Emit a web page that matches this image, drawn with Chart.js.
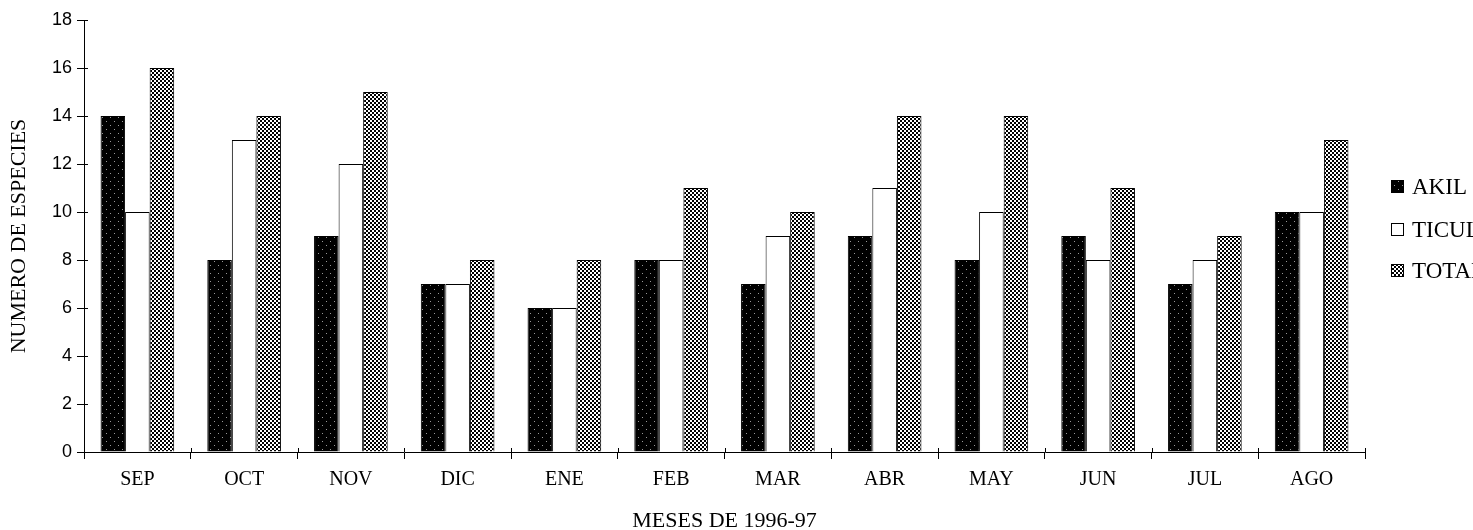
<!DOCTYPE html>
<html><head><meta charset="utf-8">
<script src="https://cdn.jsdelivr.net/npm/chart.js@4.4.0/dist/chart.umd.min.js"></script>
<style>html,body{margin:0;padding:0;background:#fff;overflow:hidden}#wrap{width:1473px;height:530px;position:relative}</style>
</head><body><div id="wrap"><canvas id="c" width="1473" height="530"></canvas></div>
<script>
const categories = ['SEP','OCT','NOV','DIC','ENE','FEB','MAR','ABR','MAY','JUN','JUL','AGO'];
const akil  = [14, 8, 9, 7, 6, 8, 7, 9, 8, 9, 7, 10];
const ticul = [10,13,12, 7, 6, 8, 9,11,10, 8, 8, 10];
const total = [16,14,15, 8, 8,11,10,14,14,11, 9, 13];
const seriesNames = ['AKIL','TICUL','TOTAL'];
const yTicks = [0,2,4,6,8,10,12,14,16,18];
const xTitle = 'MESES DE 1996-97';
const yTitle = 'NUMERO DE ESPECIES';

function makePattern(kind){
  const p = document.createElement('canvas');
  p.width = 8; p.height = 8;
  const g = p.getContext('2d');
  if(kind==='dark'){
    g.fillStyle='#000'; g.fillRect(0,0,8,8);
    g.fillStyle='#999'; g.fillRect(2,1,1,1); g.fillRect(6,5,1,1);
  } else {
    g.fillStyle='#fff'; g.fillRect(0,0,8,8);
    g.fillStyle='#000';
    for(let y=0;y<8;y++) for(let x=0;x<8;x++){
      if(((x>>1)+(y>>1))%2===0) g.fillRect(x,y,1,1);
    }
    g.fillStyle='#666';
    for(let y=0;y<8;y++) for(let x=0;x<8;x++){
      if(((x>>1)+(y>>1))%2===1 && (x+y)%4===1) g.fillRect(x,y,1,1);
    }
  }
  return document.getElementById('c').getContext('2d').createPattern(p,'repeat');
}
const darkPat = makePattern('dark');
const checkPat = makePattern('check');
const fills = [darkPat, '#ffffff', checkPat];
const seriesData = [akil, ticul, total];

const serif = '"Liberation Serif", "Times New Roman", serif';

const annotPlugin = {
  id:'annot',
  afterDraw(chart){
    const ctx = chart.ctx;
    const a = chart.chartArea;
    ctx.save();
    // inner tick stubs (ticks cross the axes)
    ctx.strokeStyle = '#000'; ctx.lineWidth = 1;
    const ys = chart.scales.y;
    yTicks.forEach(v=>{
      const py = Math.round(ys.getPixelForValue(v)) + 0.5;
      ctx.beginPath(); ctx.moveTo(a.left, py); ctx.lineTo(a.left+4, py); ctx.stroke();
    });
    for(let i=0;i<=categories.length;i++){
      const px = Math.round(a.left + (a.right-a.left)*i/categories.length) + 0.5;
      ctx.beginPath(); ctx.moveTo(px, a.bottom); ctx.lineTo(px, a.bottom-4); ctx.stroke();
    }
    // legend
    const ly = [187, 230, 271];
    ctx.font = '23px ' + serif;
    ctx.textBaseline = 'middle';
    ctx.textAlign = 'left';
    seriesNames.forEach((n,i)=>{
      ctx.fillStyle = fills[i];
      ctx.fillRect(1391, ly[i]-7, 13, 13);
      ctx.strokeStyle='#000'; ctx.lineWidth=1;
      ctx.strokeRect(1391.5, ly[i]-6.5, 12, 12);
      ctx.fillStyle='#000';
      ctx.fillText(n, 1412, ly[i]+1);
    });
    // x title
    ctx.font = '22px ' + serif;
    ctx.textAlign = 'center';
    ctx.textBaseline = 'alphabetic';
    ctx.fillText(xTitle, (a.left+a.right)/2, 527);
    // y title
    ctx.translate(25, (a.top+a.bottom)/2);
    ctx.rotate(-Math.PI/2);
    ctx.fillText(yTitle, 0, 0);
    ctx.restore();
  }
};

new Chart(document.getElementById('c'), {
  type:'bar',
  data:{
    labels: categories,
    datasets: seriesNames.map((n,i)=>({
      label:n, data: seriesData[i], backgroundColor: fills[i],
      borderColor:'#000', borderWidth:1,
      categoryPercentage:0.69, barPercentage:1.0
    }))
  },
  options:{
    responsive:false, animation:false,
    layout:{padding:{left:0,right:108,top:20,bottom:0}},
    plugins:{legend:{display:false}, tooltip:{enabled:false}},
    scales:{
      x:{
        offset:true,
        afterFit(s){ s.height = 78; },
        grid:{display:true, drawOnChartArea:false, offset:true, color:'#000', tickLength:7, tickColor:'#000'},
        border:{color:'#000', width:1},
        ticks:{color:'#000', font:{family:serif, size:20}, padding:9, maxRotation:0, autoSkip:false},
        title:{display:false}
      },
      y:{
        min:0, max:18,
        afterFit(s){ s.width = 84; },
        afterBuildTicks(axis){ axis.ticks = yTicks.map(v=>({value:v})); },
        grid:{display:true, drawOnChartArea:false, color:'#000', tickLength:7, tickColor:'#000'},
        border:{color:'#000', width:1},
        ticks:{color:'#000', font:{family:'"Liberation Sans", Arial, sans-serif', size:18}, padding:5},
        title:{display:false}
      }
    }
  },
  plugins:[annotPlugin]
});
</script></body></html>
